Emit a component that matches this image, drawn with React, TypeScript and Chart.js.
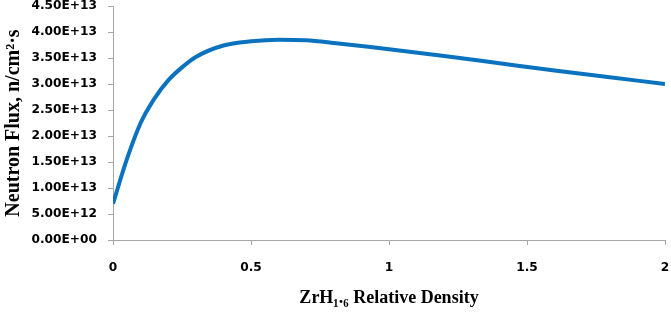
import React, { useEffect, useRef } from "react";
import { Chart, registerables } from "chart.js";

Chart.register(...registerables);

const densities = [0, 0.05, 0.1, 0.15, 0.2, 0.25, 0.3, 0.4, 0.5, 0.6, 0.7, 0.8, 0.9, 1.0, 1.2, 1.4, 1.6, 1.8, 2.0];
const fluxE13 = [0.70, 1.55, 2.25, 2.72, 3.07, 3.32, 3.52, 3.74, 3.82, 3.85, 3.84, 3.79, 3.73, 3.67, 3.54, 3.40, 3.26, 3.13, 3.00];
const yTicks = [0, 5e12, 1e13, 1.5e13, 2e13, 2.5e13, 3e13, 3.5e13, 4e13, 4.5e13];
const xTicks = [0, 0.5, 1, 1.5, 2];

const xTitle = "ZrH\u2081.\u2086 Relative Density";
const yTitle = "Neutron Flux, n/cm\u00B2\u00B7s";

function fmtExp(v: number): string {
  if (v === 0) return "0.00E+00";
  const s = v.toExponential(2);
  const [m, e] = s.split("e");
  const sign = e[0] === "-" ? "-" : "+";
  const digits = e.replace(/[+-]/, "").padStart(2, "0");
  return `${m}E${sign}${digits}`;
}

export default function App() {
  const ref = useRef<HTMLCanvasElement | null>(null);
  useEffect(() => {
    if (!ref.current) return;
    const axisColor = "#A6A6A6";
    const tickFont = { family: "'DejaVu Sans', Verdana, sans-serif", size: 12.2, weight: "bold" as const };
    const chart = new Chart(ref.current, {
      type: "line",
      data: {
        datasets: [
          {
            data: densities.map((d, i) => ({ x: d, y: fluxE13[i] * 1e13 })),
            borderColor: "#0A72BE",
            borderWidth: 4,
            pointRadius: 0,
            cubicInterpolationMode: "monotone",
            fill: false,
          },
        ],
      },
      options: {
        animation: false,
        responsive: false,
        layout: { padding: { left: 0, right: 6, top: 6, bottom: 0 } },
        plugins: { legend: { display: false }, tooltip: { enabled: false } },
        scales: {
          x: {
            type: "linear",
            min: 0,
            max: 2,
            afterBuildTicks: (s: any) => { s.ticks = xTicks.map((v) => ({ value: v })); },
            afterFit: (s: any) => {
              s.height = 72;
              s.paddingLeft = 0;
              s.paddingRight = 0;
            },
            ticks: {
              color: "#000",
              font: tickFont,
              padding: 16,
              maxRotation: 0,
              callback: (v: any) => String(v),
            },
            grid: { display: true, drawOnChartArea: false, tickLength: 5, color: axisColor },
            border: { color: axisColor, width: 1 },
            title: {
              display: true,
              text: xTitle,
              color: "#000",
              font: { family: "'Liberation Serif', 'Times New Roman', serif", size: 18, weight: "bold" },
              padding: { top: 0, bottom: 3 },
            },
          },
          y: {
            type: "linear",
            min: 0,
            max: 4.5e13,
            afterBuildTicks: (s: any) => { s.ticks = yTicks.map((v) => ({ value: v })); },
            afterFit: (s: any) => {
              s.width = 113;
              s.paddingTop = 0;
              s.paddingBottom = 0;
            },
            ticks: {
              color: "#000",
              font: tickFont,
              padding: 11,
              callback: (v: any) => fmtExp(Number(v)),
            },
            grid: { display: true, drawOnChartArea: false, tickLength: 5, color: axisColor },
            border: { color: axisColor, width: 1 },
            title: {
              display: true,
              text: yTitle,
              color: "#000",
              font: { family: "'Liberation Serif', 'Times New Roman', serif", size: 20, weight: "bold" },
              padding: { top: 2, bottom: 0 },
            },
          },
        },
      },
    });
    return () => chart.destroy();
  }, []);
  return (
    <div style={{ position: "fixed", left: 0, top: 0, width: 671, height: 312, background: "#fff" }}>
      <canvas ref={ref} width={671} height={312} style={{ width: 671, height: 312 }} />
    </div>
  );
}
